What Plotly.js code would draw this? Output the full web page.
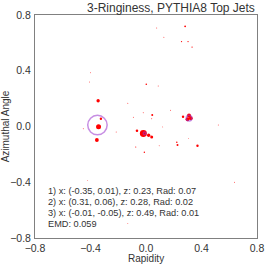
<!DOCTYPE html>
<html>
<head>
<meta charset="utf-8">
<script src="https://cdn.plot.ly/plotly-3.0.1.min.js"></script>
<style>html,body{margin:0;padding:0;background:#fff;}#plot{width:266px;height:266px;}</style>
</head>
<body>
<div id="plot"></div>
<script>
// Particles: rapidity, azimuthal angle, momentum fraction z
var rapidity = [-0.019, -0.342, 0.310, 0.299, 0.323, -0.345, -0.354, 0.019, 0.041, -0.065, -0.325, 0.267, 0.227, 0.222, 0.371, 0.045, 0.002, 0.282, 0.256, 0.303, 0.332, -0.012, -0.074,
  0.077, 0.129, -0.400, -0.407, 0.088, -0.131, 0.177, -0.020, 0.041, -0.091, 0.521, -0.452, -0.215, 0.120, 0.095, 0.306, -0.421, 0.638, -0.131];
var azimuth = [-0.051, -0.001, 0.078, 0.052, 0.059, 0.185, -0.097, -0.063, -0.075, -0.030, 0.056, 0.070, -0.133, -0.113, -0.138, 0.083, 0.303, 0.719, 0.609, 0.609, 0.570, -0.185, -0.147,
  0.707, 0.640, 0.386, 0.319, 0.291, 0.167, 0.116, 0.099, 0.056, 0.066, 0.011, -0.016, -0.039, -0.003, -0.138, -0.085, -0.386, -0.400, -0.697];
var zFrac = [0.15, 0.077, 0.05, 0.045, 0.045, 0.035, 0.045, 0.035, 0.028, 0.02, 0.018, 0.018, 0.012, 0.007, 0.018, 0.012, 0.008, 0.01, 0.005, 0.005, 0.005, 0.006, 0.004,
  0.003, 0.003, 0.0025, 0.0025, 0.003, 0.003, 0.003, 0.003, 0.003, 0.003, 0.003, 0.003, 0.003, 0.0025, 0.002, 0.002, 0.002, 0.003, 0.0025];

// Ring (jet) parameters
var jetX = [-0.35, 0.31, -0.01];
var jetY = [0.01, 0.06, -0.05];
var jetZ = [0.23, 0.28, 0.49];
var jetRad = [0.07, 0.02, 0.01];
var emd = 0.059;

var tickVals = [-0.8, -0.4, 0.0, 0.4, 0.8];

var sizes = zFrac.map(function(z){ return 18 * Math.sqrt(z); });

var trace = {
  x: rapidity, y: azimuth, type: 'scatter', mode: 'markers',
  marker: {color: 'red', size: sizes, opacity: 1, line: {width: 0}},
  hoverinfo: 'skip'
};

var shapes = jetX.map(function(cx, i){
  return {type: 'circle', xref: 'x', yref: 'y',
    x0: cx - jetRad[i], x1: cx + jetRad[i], y0: jetY[i] - jetRad[i], y1: jetY[i] + jetRad[i],
    line: {color: 'rgba(153,50,204,0.55)', width: 1.5}, layer: 'above'};
});

var FONT = 'Liberation Sans, Arial, sans-serif';
function f2(v){ return v.toFixed(2); }
var lines = jetX.map(function(cx, i){
  return (i+1) + ') x: (' + f2(cx) + ', ' + f2(jetY[i]) + '), z: ' + f2(jetZ[i]) + ', Rad: ' + f2(jetRad[i]);
});
lines.push('EMD: ' + emd.toFixed(3));
var lineY = [0.209, 0.160, 0.111, 0.063];
var annotations = lines.map(function(t, i){
  return {xref: 'paper', yref: 'paper', x: 0.048, y: lineY[i], xanchor: 'left', yanchor: 'middle',
    text: t, showarrow: false, font: {family: FONT, size: 9.2, color: '#333'}};
});
annotations.push({xref: 'paper', yref: 'paper', x: 1, y: 1, xanchor: 'right', yanchor: 'bottom', yshift: -2,
  text: '3-Ringiness, PYTHIA8 Top Jets', showarrow: false,
  font: {family: FONT, size: 12, color: '#333'}});
annotations.push({xref: 'paper', yref: 'paper', x: 0.5, y: -0.09, xanchor: 'center', yanchor: 'middle',
  text: 'Rapidity', showarrow: false, font: {family: FONT, size: 10, color: '#333'}});

var axisCommon = {
  range: [-0.8, 0.8], tickvals: tickVals, tickformat: '.1f', showgrid: false, zeroline: false,
  showline: true, mirror: true, linecolor: '#808080', linewidth: 1, ticks: '',
  tickfont: {family: FONT, size: 10.5, color: '#333'}
};

var layout = {
  width: 266, height: 266,
  margin: {l: 35, r: 9, t: 15, b: 28, pad: 0},
  paper_bgcolor: '#fff', plot_bgcolor: '#fff',
  showlegend: false,
  xaxis: Object.assign({}, axisCommon, {ticklabelstandoff: 0}),
  yaxis: Object.assign({}, axisCommon, {
    title: {text: 'Azimuthal Angle', standoff: 2, font: {family: FONT, size: 10, color: '#333'}},
    ticklabelstandoff: 1
  }),
  shapes: shapes,
  annotations: annotations
};

Plotly.newPlot('plot', [trace], layout, {displayModeBar: false, staticPlot: true});
</script>
</body>
</html>
